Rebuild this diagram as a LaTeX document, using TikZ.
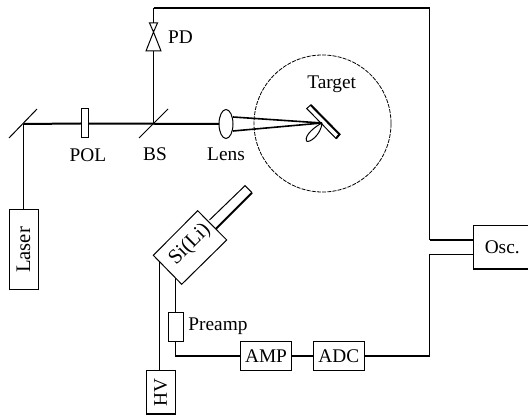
\documentclass[tikz,border=0pt]{standalone}
\usepackage{fontspec}
\setmainfont{Liberation Serif}
\usetikzlibrary{calc,shapes.geometric}
\tikzset{
  every node/.style={font=\fontsize{14.5}{16}\selectfont, inner sep=0pt, outer sep=0pt},
  box/.style={draw=black, line width=0.75pt, rectangle, minimum width=#1},
  thin line/.style={line width=0.75pt},
  thick line/.style={line width=1.5pt},
}
\begin{document}
\begin{tikzpicture}[x=0.75pt,y=-0.75pt,line join=miter]
\clip (0,0) rectangle (528,416);
% boxes
\node[box=29*0.75pt, minimum height=80*0.75pt] (laser) at (23.5,250) {\rotatebox{90}{\fontsize{15.5}{17}\selectfont Laser}};
\node[box=7*0.75pt, minimum height=29*0.75pt] (pol) at (84.5,123.5) {};
\node[box=15*0.75pt, minimum height=29*0.75pt] (preamp) at (175.8,326.8) {};
\node[box=51.4*0.75pt, minimum height=28.7*0.75pt] (amp) at (266,355.7) {AMP};
\node[box=51*0.75pt, minimum height=28.7*0.75pt] (adc) at (338.8,355.7) {ADC};
\node[box=29*0.75pt, minimum height=44.3*0.75pt] (hv) at (160.8,392.2) {\rotatebox{90}{HV}};
\node[box=60*0.75pt, minimum height=43.7*0.75pt] (osc) at (503.3,247.2) {\hspace{-1.6pt}Osc.};
\draw[thick line] (hv.south west) -- (hv.south east);
\draw[thick line] (osc.south west) -- (osc.south east);
% lens and chamber
\node[draw, thin line, ellipse, minimum width=14*0.75pt, minimum height=29*0.75pt] (lens) at (226,124) {};
\node[draw, line width=0.6pt, circle, dash pattern=on 3pt off 0.9pt, minimum size=137*0.75pt] (chamber) at (322.5,123.5) {};
% named points
\coordinate (mirrorA) at (9,138);
\coordinate (mirrorB) at (37,109);
\coordinate (mirror) at (23.5,124);
\coordinate (bsA) at (139,138);
\coordinate (bsB) at (168,109);
\coordinate (bs) at (153.5,124);
\coordinate (pdtopA) at (149.5,23);
\coordinate (pdtopB) at (157.5,23);
\coordinate (pdmid) at (153.5,32);
\coordinate (pdA) at (146,51);
\coordinate (pdB) at (161,51);
\coordinate (pdbase) at (153.5,51);
\coordinate (pdtop) at (153.5,23);
\coordinate (topL) at (153.5,8);
\coordinate (topR) at (429.7,8);
\coordinate (trunkOsc) at (429.7,239.7);
\coordinate (trunkLow) at (429.7,254.3);
\coordinate (focus) at (322,123);
\coordinate (lensT) at (233,117);
\coordinate (lensB) at (233,131);
% optics
\draw[thin line] (mirrorA) -- (mirrorB);
\draw[line width=0.6pt] (bsA) -- (bsB);
\draw[thick line] (mirror) -- (pol.west);
\draw[thick line] (pol.east) -- (lens.west);
\draw[thin line] (mirror) -- (laser.north -| mirror);
\draw[thin line] (bs) -- (pdbase);
\draw[thin line] (pdA) -- (pdB) -- (pdmid) -- cycle;
\draw[thin line] (pdtopA) -- (pdtopB) -- (pdmid) -- cycle;
\draw[thin line] (pdtop) -- (topL);
\draw[thick line] (topL) -- (topR);
\draw[thin line] (topR) -- (trunkOsc);
\draw[thick line] (trunkOsc) -- (trunkOsc -| osc.west);
\draw[line width=1.2pt] (lensT) -- (focus) -- (lensB);
% target
\draw[thin line] (306.7,108.5) -- (310.7,105) -- (339.5,134.3) -- (336,138.5) -- cycle;
\draw[thick line] (310.7,105) -- (339.5,134.3) -- (336,138.5);
\draw[thin line] (322,123) .. controls (316,126) and (304,135) .. (306.5,141) .. controls (309,143.5) and (321,135) .. (322,123);
% detector
\draw[thin line] (197.7,210.7) -- (226.7,240) -- (181.7,284.3) -- (153.3,255.3) -- cycle;
\draw[thin line] (209.5,220) -- (245,185.7) -- (252,192.7);
\draw[thick line] (252,192.7) -- (216,228.7);
\node[rotate=45] (sili) at (190,244.5) {\fontsize{15.5}{17}\selectfont Si(Li)};
% detector wiring
\coordinate (detHV) at (159.5,262);
\coordinate (detPre) at (175.3,278);
\draw[thin line] (detHV) -- (hv.north -| detHV);
\draw[thin line] (detPre) -- (preamp.north -| detPre);
\coordinate (elbow) at (175.3,355.7);
\draw[thin line] (preamp.south -| elbow) -- (elbow);
\draw[thick line] (elbow) -- (amp.west);
\draw[thick line] (amp.east) -- (adc.west);
\coordinate (adcEnd) at (429.7,355.7);
\draw[thick line] (adc.east) -- (adcEnd);
\draw[thin line] (adcEnd) -- (trunkLow) -- (trunkLow -| osc.west);
% labels
\node (lpd) at (180.5,37) {PD};
\node (lpol) at (88,155) {POL};
\node (lbs) at (155,154) {BS};
\node (llens) at (226,154) {Lens};
\node (ltarget) at (331.7,84) {Target};
\node (lpre) at (218,326) {Preamp};
\end{tikzpicture}
\end{document}
